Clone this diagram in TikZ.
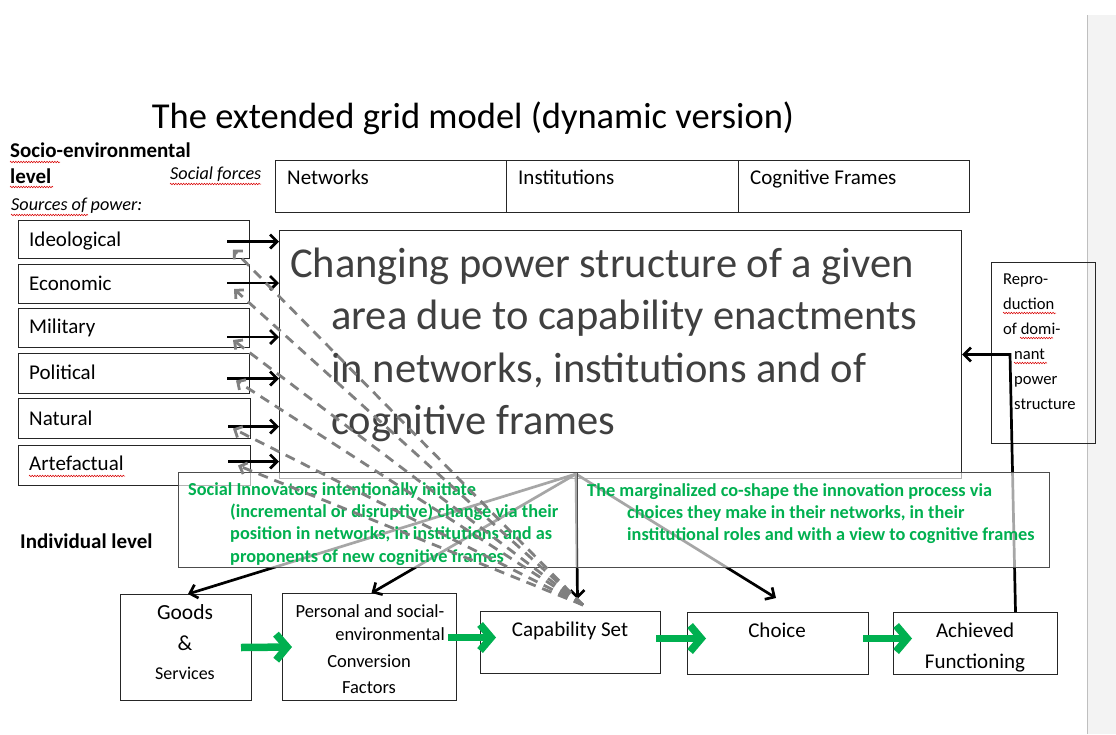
\documentclass[tikz,border=0pt]{standalone}
\usepackage{fontspec}
\setmainfont{Carlito}
\usetikzlibrary{arrows.meta,calc,decorations.pathmorphing}
\definecolor{inngreen}{RGB}{0,176,80}
\definecolor{maintext}{RGB}{64,64,64}
\definecolor{dashgrey}{RGB}{128,128,128}
\definecolor{panelgrey}{RGB}{243,243,243}
\begin{document}
\begin{tikzpicture}[x=1pt,y=-1pt,
  frame/.style={draw=black!85, line width=1pt, rectangle, inner sep=0pt, anchor=north west},
  greenframe/.style={frame, draw=black!70, fill=white, fill opacity=0.65},
  txt/.style={anchor=base west, inner sep=0pt},
  ctxt/.style={anchor=base, inner sep=0pt},
  lbl/.style={txt, font=\fontsize{21}{25}\selectfont},
  big/.style={txt, text=maintext, font=\fontsize{42.5}{50}\selectfont},
  gtxt/.style={txt, text=inngreen, font=\bfseries\fontsize{18.3}{22}\selectfont},
  small/.style={txt, font=\fontsize{16.6}{20}\selectfont},
  blkarrow/.style={draw=black, line width=2.7pt, -{Straight Barb[length=7pt,width=14pt]}},
  dasharrow/.style={draw=dashgrey, line width=2.8pt, dash pattern=on 10pt off 7pt, -{Straight Barb[length=6pt,width=12pt]}},
  greenarrow/.style={draw=inngreen, line width=7.5pt, -{Straight Barb[length=11pt,width=26pt]}},
  spell/.style={draw=red!85!black, line width=0.5pt, decorate, decoration={zigzag, amplitude=0.8pt, segment length=2.6pt}}
]
\useasboundingbox (0,0) rectangle (1116,734);
\fill[white] (0,0) rectangle (1116,734);
% side panel
\fill[panelgrey] (1088,15) rectangle (1116,734);
\draw[black!25, line width=1pt] (1087.5,15) -- (1087.5,734);

% title and level headings
\node[ctxt, font=\fontsize{36.5}{42}\selectfont] (title) at (473,128) {The extended grid model (dynamic version)};
\node[txt, font=\bfseries\fontsize{21}{25}\selectfont] (socio) at (10,157) {Socio-environmental};
\node[txt, font=\bfseries\fontsize{21}{25}\selectfont] (level) at (10,183) {level};
\node[txt, font=\itshape\fontsize{18.2}{22}\selectfont] (forces) at (170,179) {Social forces};
\node[txt, font=\itshape\fontsize{18.2}{22}\selectfont] (sources) at (11,210) {Sources of power:};
\node[txt, font=\bfseries\fontsize{21}{25}\selectfont] (indiv) at (20,548) {Individual level};

% social forces
\node[frame, minimum width=231pt, minimum height=52pt] (net) at (275,160) {};
\node[frame, minimum width=232pt, minimum height=52pt] (inst) at (506,160) {};
\node[frame, minimum width=231pt, minimum height=52pt] (cog) at (738,160) {};
\node[lbl] (netl) at (287,184) {Networks};
\node[lbl] (instl) at (518,184) {Institutions};
\node[lbl] (cogl) at (750,184) {Cognitive Frames};

% sources of power
\node[frame, minimum width=231pt, minimum height=38pt] (ideo) at (18,220) {};
\node[frame, minimum width=231pt, minimum height=39pt] (econ) at (18,264) {};
\node[frame, minimum width=231pt, minimum height=39pt] (mil) at (18,308) {};
\node[frame, minimum width=231pt, minimum height=40pt] (pol) at (18,353) {};
\node[frame, minimum width=232pt, minimum height=40pt] (nat) at (18,398) {};
\node[frame, minimum width=232pt, minimum height=40pt] (art) at (18,445) {};
\node[lbl] (ideol) at (29,246) {Ideological};
\node[lbl] (econl) at (29,290) {Economic};
\node[lbl] (mill) at (29,333) {Military};
\node[lbl] (poll) at (29,379) {Political};
\node[lbl] (natl) at (29,425) {Natural};
\node[lbl] (artl) at (29,470) {Artefactual};

% power structure
\node[frame, minimum width=682pt, minimum height=248pt] (main) at (279,230) {};
\node[big] (m1) at (290,277) {Changing power structure of a given};
\node[big] (m2) at (331,329) {area due to capability enactments};
\node[big] (m3) at (331,382) {in networks, institutions and of};
\node[big] (m4) at (331,434) {cognitive frames};

% reproduction
\node[frame, minimum width=104pt, minimum height=181pt] (repro) at (991,262) {};
\node[small] (r1) at (1003,284) {Repro-};
\node[small] (r2) at (1003,309) {duction};
\node[small] (r3) at (1003,334) {of domi-};
\node[small] (r4) at (1014,359) {nant};
\node[small] (r5) at (1014,384) {power};
\node[small] (r6) at (1014,409) {structure};

% individual level chain
\node[frame, minimum width=131pt, minimum height=106pt] (goods) at (120,594) {};
\node[frame, minimum width=174pt, minimum height=107pt] (conv) at (282,593) {};
\node[frame, minimum width=180pt, minimum height=62pt] (cap) at (480,611) {};
\node[frame, minimum width=181pt, minimum height=62pt] (choice) at (687,612) {};
\node[frame, minimum width=164pt, minimum height=62pt] (achv) at (893,612) {};
\node[ctxt, font=\fontsize{21.5}{25}\selectfont] (g1) at (185,619) {Goods};
\node[ctxt, font=\fontsize{21.5}{25}\selectfont] (g2) at (185,650) {\&};
\node[ctxt, font=\fontsize{18}{22}\selectfont] (g3) at (185,679) {Services};
\node[ctxt, font=\fontsize{18.5}{22}\selectfont] (c1) at (370,617) {Personal and social-};
\node[anchor=base east, inner sep=0pt, font=\fontsize{18.5}{22}\selectfont] (c2) at (445,640) {environmental};
\node[ctxt, font=\fontsize{18.5}{22}\selectfont] (c3) at (369,667) {Conversion};
\node[ctxt, font=\fontsize{18.5}{22}\selectfont] (c4) at (369,693) {Factors};
\node[ctxt, font=\fontsize{21}{25}\selectfont] (capl) at (570,636) {Capability Set};
\node[ctxt, font=\fontsize{21}{25}\selectfont] (choicel) at (777,637) {Choice};
\node[ctxt, font=\fontsize{21}{25}\selectfont] (a1) at (975,637) {Achieved};
\node[ctxt, font=\fontsize{21}{25}\selectfont] (a2) at (975,668) {Functioning};

% green flow between individual boxes
\draw[greenarrow] ($(goods.east)+(-11,0)$) -- ($(conv.west)+(10,0)$);
\draw[greenarrow] ($(conv.east)+(-9,-9.5)$) -- ($(cap.west)+(16,-5)$);
\draw[greenarrow] ($(cap.east)+(-5,-4)$) -- ($(choice.west)+(19,-5)$);
\draw[greenarrow] ($(choice.east)+(-6,-5)$) -- ($(achv.west)+(19,-5)$);

% sources of power feed the power structure
\draw[blkarrow] ($(ideo.east)+(-23,2)$) -- (main.west |- {$(ideo.east)+(0,2)$});
\draw[blkarrow] ($(econ.east)+(-23,-1)$) -- (main.west |- {$(econ.east)+(0,-1)$});
\draw[blkarrow] ($(mil.east)+(-23,9)$) -- (main.west |- {$(mil.east)+(0,9)$});
\draw[blkarrow] ($(pol.east)+(-23,5)$) -- (main.west |- {$(pol.east)+(0,5)$});
\draw[blkarrow] ($(nat.east)+(-23,8)$) -- (main.west |- {$(nat.east)+(0,8)$});
\draw[blkarrow] ($(art.east)+(-23,-4)$) -- (main.west |- {$(art.east)+(0,-4)$});

% innovation hub towards the individual level
\coordinate (hub) at (576,474);
\draw[blkarrow] (hub) -- ($(goods.north)+(2,0)$);
\draw[blkarrow] (hub) -- ($(conv.north)+(2,0)$);
\draw[blkarrow] (hub) -- ($(cap.north)+(7,-12)$);
\draw[blkarrow] (hub) -- ($(choice.north)+(-2,-14)$);

% achieved functioning reproduces the power structure
\coordinate (turn) at ($(repro.west)+(19,1.5)$);
\draw[blkarrow] ($(achv.north)+(40,0)$) -- (turn) -- (main.east |- turn);

% social innovators / marginalized
\node[greenframe, minimum width=399pt, minimum height=95pt] (innov) at (178,472) {};
\node[greenframe, minimum width=472pt, minimum height=95pt] (marg) at (577,472) {};
\node[gtxt] (i1) at (188,495) {Social Innovators intentionally initiate};
\node[gtxt] (i2) at (230,517) {(incremental or disruptive) change via their};
\node[gtxt] (i3) at (230,539) {position in networks, in institutions and as};
\node[gtxt] (i4) at (230,562) {proponents of new cognitive frames};
\node[gtxt] (k1) at (587,496) {The marginalized co-shape the innovation process via};
\node[gtxt] (k2) at (627,518) {choices they make in their networks, in their};
\node[gtxt] (k3) at (627,540) {institutional roles and with a view to cognitive frames};

% capability set feeds back to the sources of power
\coordinate (capin) at (583,605);
\draw[dasharrow] (capin) -- ($(ideo.east)+(-17,10)$);
\draw[dasharrow] (capin) -- ($(econ.east)+(-16,5)$);
\draw[dasharrow] (capin) -- ($(mil.east)+(-17,12)$);
\draw[dasharrow] (capin) -- ($(pol.east)+(-14,7)$);
\draw[dasharrow] (capin) -- ($(nat.east)+(-18,10)$);
\draw[dasharrow] (capin) -- ($(art.east)+(-13,0)$);

% spelling marks
\draw[spell] (10,162) -- (60,162);
\draw[spell] (10,187) -- (53,187);
\draw[spell] (170,184) -- (261,184);
\draw[spell] (11,215) -- (88,215);
\draw[spell] (29,476) -- (125,476);
\draw[spell] (1003,313) -- (1056,313);
\draw[spell] (1020,338) -- (1053,338);
\draw[spell] (1014,363) -- (1047,363);
\end{tikzpicture}
\end{document}
